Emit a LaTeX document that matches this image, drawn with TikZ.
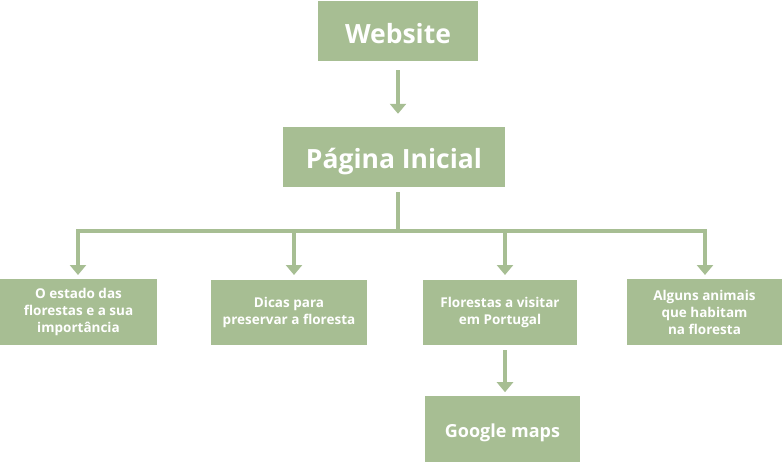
\documentclass[tikz,border=0pt]{standalone}
\usepackage{fontspec}
\setmainfont{Open Sans}
\usetikzlibrary{arrows.meta}
\definecolor{sage}{RGB}{167,190,147}
\begin{document}
\begin{tikzpicture}[x=1pt,y=-1pt,
		box/.style={fill=sage,text=white,font=\bfseries,align=center,inner sep=0pt},
		big/.style={box,font=\fontsize{26.5}{30}\selectfont\bfseries,text depth=0pt},
		small/.style={box,font=\fontsize{13.5}{17}\selectfont\bfseries},
		link/.style={draw=sage,line width=4pt},
		arr/.style={link,-{Triangle[width=16pt,length=10pt]}}]
		\useasboundingbox (0,0) rectangle (783,462);
		\node[big,minimum width=160pt,minimum height=60pt,text height=25pt] (web) at (398,31) {Website};
		\node[big,minimum width=222pt,minimum height=60pt,text height=23pt] (inicial) at (394,157) {Página Inicial};
		\node[small,minimum width=157pt,minimum height=66pt] (estado) at (78.5,312) {O estado das\\florestas e a sua\\importância};
		\node[small,minimum width=156pt,minimum height=65pt] (dicas) at (289,312.5) {Dicas para\\preservar a floresta};
		\node[small,minimum width=154pt,minimum height=65pt] (visitar) at (500,312.5) {Florestas a visitar\\em Portugal};
		\node[small,minimum width=155pt,minimum height=66pt] (animais) at (704.5,312) {Alguns animais\\que habitam\\na floresta};
		\node[box,minimum width=155pt,minimum height=66pt,font=\fontsize{18}{22}\selectfont\bfseries,text height=16pt,text depth=0pt] (maps) at (502.5,429) {Google maps};
		\coordinate (bus) at (398,231);
		\coordinate (busL) at (76,231);
		\coordinate (busR) at (707,231);
		\draw[arr,shorten <=9pt,shorten >=13pt] (web.south) -- (web.south |- inicial.north);
		\draw[link,shorten <=5pt] (inicial.south -| bus) -- (bus);
		\draw[link] (busL) -- (busR);
		\foreach \n/\x in {estado/78,dicas/294,visitar/505,animais/705}{
				\draw[arr,shorten >=4pt] (\x,229) -- (\x,279);
			}
		\draw[arr,shorten <=5pt,shorten >=4pt] (visitar.south -| maps.north) ++(2.5,0) -- ++(0,51);
	\end{tikzpicture}
\end{document}
